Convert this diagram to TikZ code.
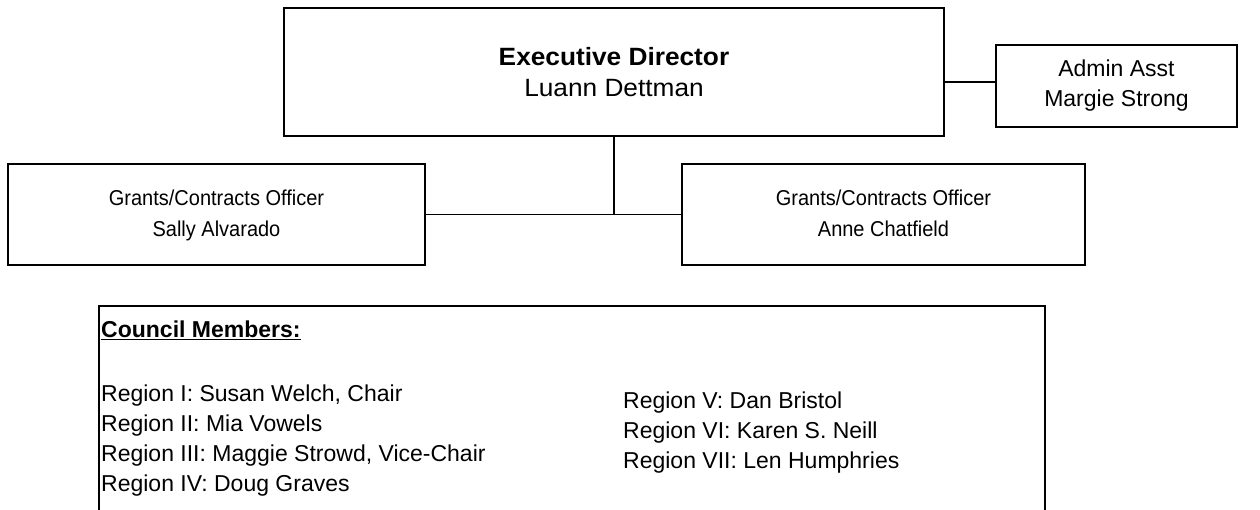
\documentclass[tikz,border=0pt]{standalone}
\usepackage{fontspec}
\setmainfont{Liberation Sans}
\newfontfamily\widefont[FakeStretch=1.05]{Liberation Sans}
\newfontfamily\slimfont[FakeStretch=0.93]{Liberation Sans}
\begin{document}
\begin{tikzpicture}[x=1bp,y=-1bp,
  box/.style={draw, line width=1.6bp, rectangle, inner sep=0pt, align=center,
    font=\fontsize{23bp}{30bp}\selectfont},
  link/.style={line width=1.6bp},
  member/.style={inner sep=0pt, anchor=base west, font=\fontsize{23bp}{30bp}\selectfont}]
\useasboundingbox (0,0) rectangle (1260,510);
\clip (0,0) rectangle (1260,510);

% staff boxes
\node[box, minimum width=660bp, minimum height=128bp,
  font=\widefont\fontsize{25bp}{31bp}\selectfont] (exec) at (614,72)
  {\textbf{Executive Director}\\Luann Dettman};
\node[box, minimum width=241bp, minimum height=82bp] (admin) at (1116.5,86)
  {Admin Asst\\Margie Strong};
\node[box, minimum width=417bp, minimum height=101bp,
  font=\slimfont\fontsize{21.5bp}{31bp}\selectfont] (gleft) at (216.5,214.5)
  {\raisebox{-2bp}{\begin{tabular}{@{}c@{}}Grants/Contracts Officer\\Sally Alvarado\end{tabular}}};
\node[box, minimum width=403bp, minimum height=101bp,
  font=\slimfont\fontsize{21.5bp}{31bp}\selectfont] (gright) at (883.5,214.5)
  {\raisebox{-2bp}{\begin{tabular}{@{}c@{}}Grants/Contracts Officer\\Anne Chatfield\end{tabular}}};

% connectors
\coordinate (aj) at (970,82);
\coordinate (hub) at (614,214.5);
\draw[link] (exec.east |- aj) -- (admin.west |- aj);
\draw[link] (exec.south) -- (hub);
\draw[link] (gleft.east) -- (gright.west);

% council panel (runs past the lower edge)
\node[box, minimum width=946bp, minimum height=230bp, anchor=north west] (council) at (98,305) {};
\node[member] (ctitle) at (101,338) {\underline{\textbf{Council Members:}}};
\node[member] (r1) at (101,401) {Region I: Susan Welch, Chair};
\node[member] (r2) at (101,431) {Region II: Mia Vowels};
\node[member] (r3) at (101,461) {Region III: Maggie Strowd, Vice-Chair};
\node[member] (r4) at (101,491) {Region IV: Doug Graves};
\node[member] (r5) at (623,408) {Region V: Dan Bristol};
\node[member] (r6) at (623,438) {Region VI: Karen S. Neill};
\node[member] (r7) at (623,468) {Region VII: Len Humphries};
\end{tikzpicture}
\end{document}
